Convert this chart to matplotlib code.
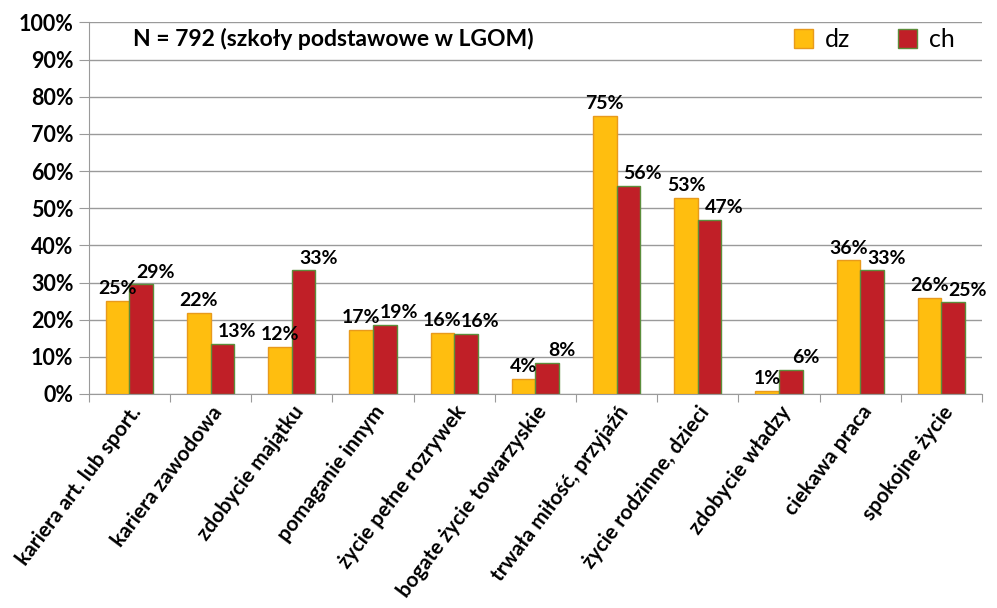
import numpy as np
import matplotlib
matplotlib.use("Agg")
import matplotlib.pyplot as plt
from matplotlib.ticker import FixedLocator, FuncFormatter

categories = ["kariera art. lub sport.", "kariera zawodowa", "zdobycie majątku",
              "pomaganie innym", "życie pełne rozrywek", "bogate życie towarzyskie",
              "trwała miłość, przyjaźń", "życie rodzinne, dzieci", "zdobycie władzy",
              "ciekawa praca", "spokojne życie"]
dz = [25.1, 21.9, 12.6, 17.3, 16.5, 4.1, 74.9, 52.8, 0.8, 36.0, 25.8]
ch = [29.5, 13.5, 33.3, 18.6, 16.1, 8.4, 56.1, 46.8, 6.4, 33.3, 24.7]
dz_labels = ["25%", "22%", "12%", "17%", "16%", "4%", "75%", "53%", "1%", "36%", "26%"]
ch_labels = ["29%", "13%", "33%", "19%", "16%", "8%", "56%", "47%", "6%", "33%", "25%"]

plt.rcParams['font.family'] = ['Lato', 'DejaVu Sans']

fig = plt.figure(figsize=(9.97, 6.08), dpi=100)
ax = fig.add_axes([0.089, 0.352, 0.896, 0.611])

x = np.arange(len(categories))
w = 0.29
ax.bar(x - w / 2, dz, w, color="#FFBE0F", edgecolor="#E89A1C", linewidth=1.0, label="dz", zorder=3)
ax.bar(x + w / 2, ch, w, color="#C01F27", edgecolor="#5C8E3C", linewidth=1.0, label="ch", zorder=3)

# value labels, ch ones pushed a bit to the right like in the original
for xi, v, t in zip(x, dz, dz_labels):
    ax.text(xi - w / 2, v + 1.0, t, ha="center", va="bottom", fontsize=14, fontweight="bold", zorder=4)
for xi, v, t in zip(x, ch, ch_labels):
    ax.text(xi + w / 2 + 0.18, v + 1.0, t, ha="center", va="bottom", fontsize=14, fontweight="bold", zorder=4)

ax.set_xlim(-0.5, len(categories) - 0.5)
ax.set_ylim(0, 100)
ax.set_yticks(np.arange(0, 101, 10))
ax.yaxis.set_major_formatter(FuncFormatter(lambda v, p: f"{int(v)}%"))
ax.grid(axis="y", color="#9a9a9a", linewidth=1.0, zorder=0)
for lab in ax.get_yticklabels():
    lab.set_fontsize(15.5)
    lab.set_fontweight("bold")

ax.xaxis.set_major_locator(FixedLocator(np.arange(-0.5, len(categories), 1.0)))
ax.xaxis.set_major_formatter(FuncFormatter(lambda v, p: ""))
ax.xaxis.set_minor_locator(FixedLocator(x))
ax.set_xticklabels(categories, minor=True, rotation=53, ha="right", rotation_mode="anchor",
                   fontsize=15, fontweight="bold")
ax.tick_params(axis="x", which="minor", length=0, pad=6)
ax.tick_params(axis="x", which="major", length=6, color="#9a9a9a")
ax.tick_params(axis="y", length=7, color="#9a9a9a", pad=4)

for s in ["top", "right"]:
    ax.spines[s].set_visible(False)
for s in ["left", "bottom"]:
    ax.spines[s].set_color("#9a9a9a")

ax.text(0.05, 95.5, "N = 792 (szkoły podstawowe w LGOM)", fontsize=16.5, fontweight="bold", va="center")
ax.legend(loc="upper right", bbox_to_anchor=(0.995, 1.045), ncol=2, frameon=False, fontsize=18,
          handlelength=0.75, handleheight=0.75, columnspacing=1.9, handletextpad=0.5)

fig.savefig("out.png", dpi=100)
